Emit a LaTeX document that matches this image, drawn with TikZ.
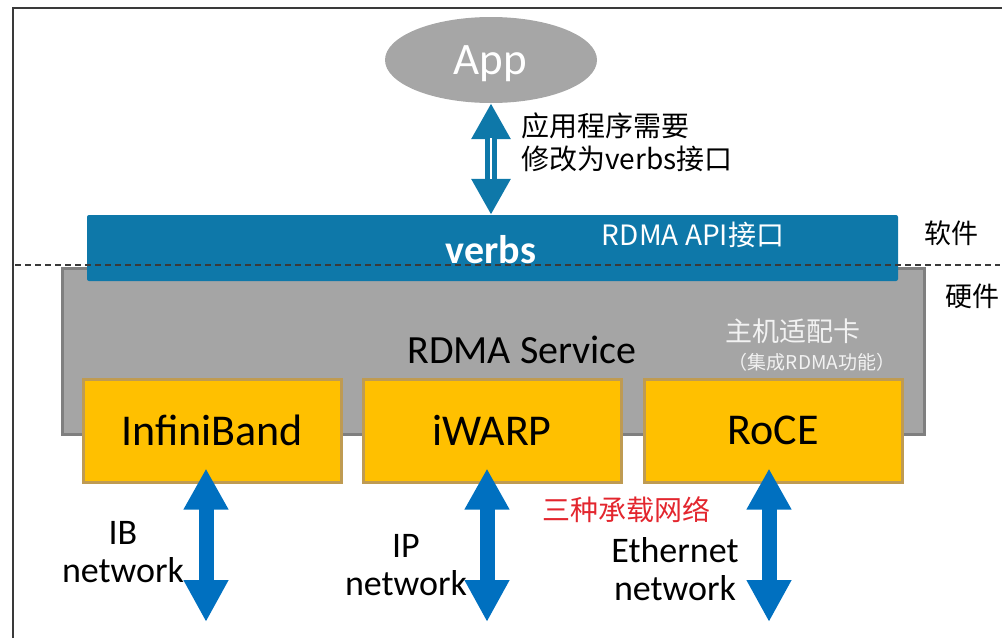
\documentclass[tikz,border=0pt]{standalone}
\usepackage{fontspec}
\setmainfont{Carlito}
\newfontfamily\cjk{Noto Sans CJK SC}
\usetikzlibrary{arrows.meta,shapes.geometric}
\definecolor{appgray}{HTML}{A6A6A6}
\definecolor{verbsblue}{HTML}{0E78A9}
\definecolor{svcgray}{HTML}{A5A5A5}
\definecolor{svcborder}{HTML}{7F7F7F}
\definecolor{protoyellow}{HTML}{FFC000}
\definecolor{protoborder}{HTML}{BF9B52}
\definecolor{netblue}{HTML}{0070C0}
\definecolor{notered}{HTML}{E3262E}
\definecolor{framegray}{HTML}{3A3A3A}
\definecolor{paletext}{HTML}{F2F2F2}
\tikzset{
  framestyle/.style={draw=framegray, line width=2pt},
  appnode/.style={ellipse, fill=appgray, minimum width=212pt, minimum height=86pt, inner sep=0pt},
  apptext/.style={text=white, font=\fontsize{45}{45}\selectfont, inner sep=0pt},
  verbsbar/.style={fill=verbsblue, rounded corners=2pt, minimum width=811pt, minimum height=66pt, inner sep=0pt},
  verbstext/.style={text=white, font=\bfseries\fontsize{40}{40}\selectfont, inner sep=0pt},
  svcbox/.style={fill=svcgray, draw=svcborder, line width=3pt, minimum width=862pt, minimum height=166pt, inner sep=0pt},
  protobox/.style={fill=protoyellow, draw=protoborder, line width=3pt, minimum width=258pt, minimum height=103pt, inner sep=0pt,
    font=\fontsize{44}{44}\selectfont},
  apparrow/.style={draw=verbsblue, line width=12pt,
    {Triangle[width=37pt,length=36pt]}-{Triangle[width=37pt,length=36pt]}},
  netarrow/.style={draw=netblue, line width=15pt,
    {Triangle[width=42pt,length=41pt]}-{Triangle[width=42pt,length=42pt]}},
  dashline/.style={draw=framegray, line width=1.2pt, dash pattern=on 6pt off 4pt},
  cjktext/.style={font=\cjk\fontsize{27}{33}\selectfont, inner sep=0pt},
  notetext/.style={font=\cjk\fontsize{28}{33}\selectfont, inner sep=0pt},
  netlabel/.style={font=\fontsize{36}{38}\selectfont, align=center, inner sep=0pt},
}
\begin{document}
\begin{tikzpicture}[x=1pt,y=-1pt]
\useasboundingbox (0,0) rectangle (1002,638);
% frame
\coordinate (fbl) at (13,638);
\coordinate (ftl) at (13,8);
\coordinate (ftr) at (1002,8);
\draw[framestyle] (fbl) -- (ftl) -- (ftr);

% RDMA service box
\node[svcbox] (svc) at (493,351.5) {};
% verbs bar
\node[verbsbar] (verbs) at (492.5,248) {};
\node[verbstext] (verbslabel) at (491,250) {verbs};
\node[font=\cjk\fontsize{28}{28}\selectfont, text=white, inner sep=0pt] (api) at (693,235) {RDMA API接口};

% dashed separator
\coordinate (dl) at (15,265);
\coordinate (dr) at (1000,265);
\draw[dashline] (dl) -- (dr);

% labels right
\node[cjktext] (sw) at (951,233) {软件};
\node[cjktext] (hw) at (972,296) {硬件};

% service text
\node[font=\fontsize{40}{40}\selectfont, inner sep=0pt] (svctext) at (522,350) {RDMA Service};
\node[cjktext, text=paletext] (hca) at (793,331) {主机适配卡};
\node[font=\cjk\fontsize{19}{19}\selectfont, text=paletext, inner sep=0pt] (hca2) at (812,362) {（集成RDMA功能）};

% protocol boxes
\node[protobox] (ib) at (212,430.5) {InfiniBand};
\node[protobox] (iwarp) at (492,430.5) {iWARP};
\node[protobox] (roce) at (773,430.5) {RoCE};

% App
\node[appnode] (app) at (491,60) {};
\node[apptext] (applabel) at (490,64) {App};

% app arrow
\draw[apparrow] (app.south) -- (verbs.north -| app.south);
\draw[white, line width=1.6pt] ([yshift=-35pt]app.south) -- ([yshift=36pt]verbs.north -| app.south);
\node[notetext, align=left, anchor=west] (note) at (521,142) {应用程序需要\\修改为verbs接口};

% network arrows
\coordinate (ibnet) at (206,622);
\coordinate (ipnet) at (487,622);
\coordinate (ethnet) at (769,622);
\draw[netarrow] ([xshift=-6pt,yshift=15pt]ib.south) -- (ibnet);
\draw[netarrow] ([xshift=-5pt,yshift=15pt]iwarp.south) -- (ipnet);
\draw[netarrow] ([xshift=-4pt,yshift=15pt]roce.south) -- (ethnet);

% network labels
\node[netlabel] (iblabel) at (123,552) {IB\\network};
\node[netlabel] (iplabel) at (406,565) {IP\\network};
\node[netlabel] (ethlabel) at (675,569) {Ethernet\\network};
\node[notetext, text=notered] (three) at (626,510) {三种承载网络};
\end{tikzpicture}
\end{document}
